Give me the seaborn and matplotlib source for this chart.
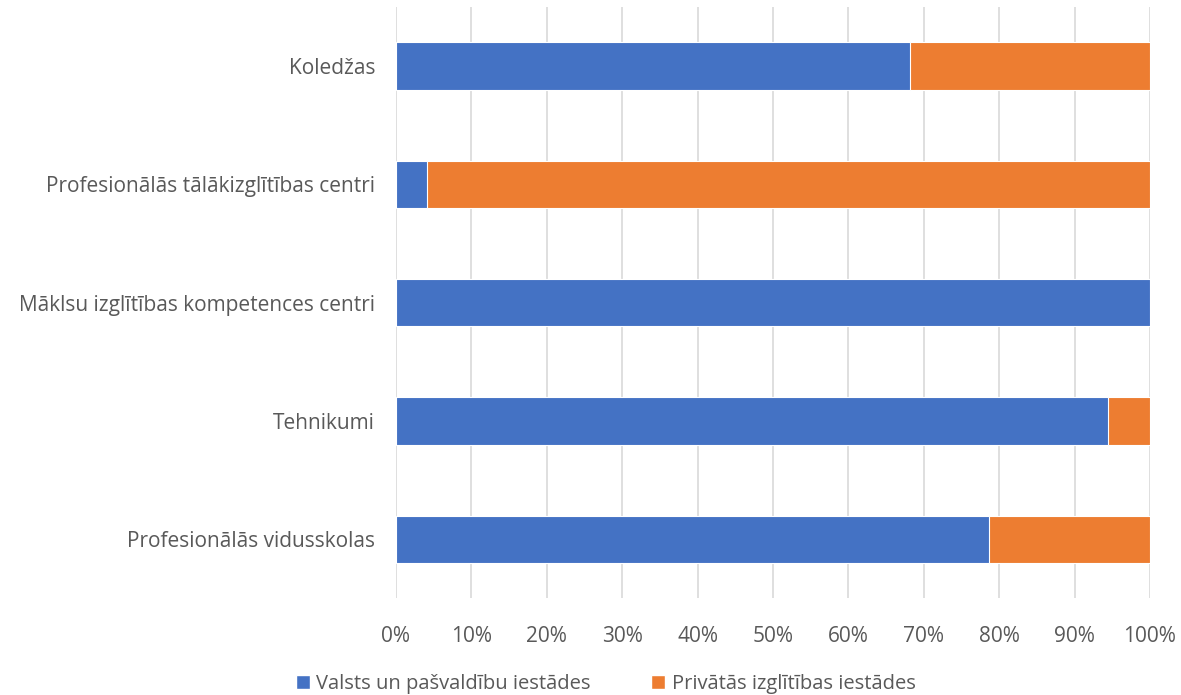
import matplotlib
matplotlib.use("Agg")
import matplotlib.pyplot as plt
import seaborn as sns
import pandas as pd
import numpy as np
from matplotlib.patches import Patch
from matplotlib.ticker import FuncFormatter

categories = ["Koledžas", "Profesionālās tālākizglītības centri",
              "Māklsu izglītības kompetences centri", "Tehnikumi",
              "Profesionālās vidusskolas"]
valsts = [68.2, 4.1, 100.0, 94.4, 78.6]
privatas = [31.8, 95.9, 0.0, 5.6, 21.4]
series_names = ["Valsts un pašvaldību iestādes", "Privātās izglītības iestādes"]
xticks = [0, 10, 20, 30, 40, 50, 60, 70, 80, 90, 100]

BLUE = "#4472C4"
ORANGE = "#ED7D31"
TEXT = "#595959"

sns.set_style("white")
plt.rcParams["font.family"] = ["Open Sans", "DejaVu Sans"]

df = pd.DataFrame({"cat": categories, "valsts": valsts, "privatas": privatas})
df["total"] = df["valsts"] + df["privatas"]

fig = plt.figure(figsize=(11.81, 6.95), dpi=100)
ax = fig.add_axes([0.3353, 0.139, 0.6384, 0.851])

sns.barplot(data=df, y="cat", x="total", color=ORANGE, orient="h", width=0.4,
            saturation=1, edgecolor="white", linewidth=0.8, ax=ax, zorder=3)
sns.barplot(data=df, y="cat", x="valsts", color=BLUE, orient="h", width=0.4,
            saturation=1, edgecolor="white", linewidth=0.8, ax=ax, zorder=4)

ax.set_xlim(0, 100)
ax.set_xticks(xticks)
ax.xaxis.set_major_formatter(FuncFormatter(lambda v, p: f"{int(v)}%"))
ax.grid(axis="x", color="#D9D9D9", linewidth=1.2, zorder=0)
ax.set_axisbelow(True)
for s in ax.spines.values():
    s.set_visible(False)
ax.set_xlabel("")
ax.set_ylabel("")
ax.tick_params(axis="both", length=0, labelsize=15, labelcolor=TEXT)
ax.tick_params(axis="x", pad=20)
ax.tick_params(axis="y", pad=15)

handles = [Patch(facecolor=BLUE, label=series_names[0]),
           Patch(facecolor=ORANGE, label=series_names[1])]
leg = fig.legend(handles=handles, loc="center", bbox_to_anchor=(0.513, 0.016),
                 ncol=2, frameon=False, fontsize=14.5, handlelength=0.7,
                 handleheight=0.7, handletextpad=0.3, columnspacing=3.0)
for t in leg.get_texts():
    t.set_color(TEXT)

fig.savefig("out.png", dpi=100)
